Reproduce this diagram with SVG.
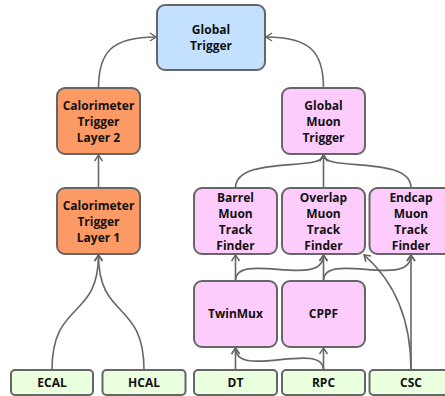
<svg xmlns="http://www.w3.org/2000/svg" width="445" height="396" viewBox="0 0 445 396">
<defs>
<marker id="ah" markerWidth="12" markerHeight="12" refX="7" refY="5" orient="auto" markerUnits="userSpaceOnUse">
<path d="M1,1 L7,5 L1,9" fill="none" stroke="#666" stroke-width="1.5"/>
</marker>
<style>
.n rect{stroke:#666;stroke-width:2}
.blue rect{fill:#c3e1ff}
.orange rect{fill:#fc9a66}
.pink rect{fill:#fdccfd}
.green rect{fill:#eaffdd}
text{font-family:"Open Sans","DejaVu Sans",sans-serif;font-weight:bold;font-size:12px;fill:#111;text-anchor:middle;dominant-baseline:central}
#edges path{fill:none;stroke:#666;stroke-width:1.6;marker-end:url(#ah)}
</style>
</defs>
<rect width="445" height="396" fill="#fff"/>
<g id="edges">
<path d="M98.5,88 C98.5,52 112,37 156,37"/>
<path d="M323.5,88 C323.5,52 310,37 266,37"/>
<path d="M98.5,188 L98.5,155"/>
<path d="M52,370 C52,300 98.5,320 98.5,255"/>
<path d="M144,370 C144,300 98.5,320 98.5,255"/>
<path d="M235.5,188 C235.5,155 323.5,172 323.5,155"/>
<path d="M323.5,188 L323.5,155"/>
<path d="M411,188 C411,155 323.5,172 323.5,155"/>
<path d="M235.5,281 L235.5,255"/>
<path d="M235.5,281 C235.5,250 323.5,290 323.5,255"/>
<path d="M323.5,281 L323.5,255"/>
<path d="M323.5,281 C323.5,250 411,290 411,255"/>
<path d="M411,370 L411,255"/>
<path d="M411,370 C411,320 395,282 364,255"/>
<path d="M235.5,370 L235.5,348"/>
<path d="M323.5,370 C323.5,340 235.5,380 235.5,348"/>
<path d="M323.5,370 L323.5,348"/>
</g>
<g id="global" class="n blue"><rect x="157" y="5" width="108" height="65" rx="8"/><text x="211" y="29.5">Global</text><text x="211" y="45.5">Trigger</text></g>
<g id="calo2" class="n orange"><rect x="57" y="88" width="83" height="66" rx="8"/><text x="98.5" y="105">Calorimeter</text><text x="98.5" y="121">Trigger</text><text x="98.5" y="137">Layer 2</text></g>
<g id="calo1" class="n orange"><rect x="57" y="188" width="83" height="66" rx="8"/><text x="98.5" y="205">Calorimeter</text><text x="98.5" y="221">Trigger</text><text x="98.5" y="237">Layer 1</text></g>
<g id="gmt" class="n pink"><rect x="282" y="88" width="83" height="66" rx="8"/><text x="323.5" y="105">Global</text><text x="323.5" y="121">Muon</text><text x="323.5" y="137">Trigger</text></g>
<g id="bmtf" class="n pink"><rect x="194" y="188" width="83" height="66" rx="8"/><text x="235.5" y="197">Barrel</text><text x="235.5" y="213">Muon</text><text x="235.5" y="229">Track</text><text x="235.5" y="245">Finder</text></g>
<g id="omtf" class="n pink"><rect x="282" y="188" width="83" height="66" rx="8"/><text x="323.5" y="197">Overlap</text><text x="323.5" y="213">Muon</text><text x="323.5" y="229">Track</text><text x="323.5" y="245">Finder</text></g>
<g id="emtf" class="n pink"><rect x="369.5" y="188" width="83" height="66" rx="8"/><text x="411" y="197">Endcap</text><text x="411" y="213">Muon</text><text x="411" y="229">Track</text><text x="411" y="245">Finder</text></g>
<g id="twinmux" class="n pink"><rect x="194" y="281" width="83" height="66" rx="8"/><text x="235.5" y="313">TwinMux</text></g>
<g id="cppf" class="n pink"><rect x="282" y="281" width="83" height="66" rx="8"/><text x="323.5" y="313">CPPF</text></g>
<g id="ecal" class="n green"><rect x="11" y="370" width="82" height="25" rx="4"/><text x="52" y="382.5">ECAL</text></g>
<g id="hcal" class="n green"><rect x="102.5" y="370" width="83" height="25" rx="4"/><text x="144" y="382.5">HCAL</text></g>
<g id="dt" class="n green"><rect x="194" y="370" width="83" height="25" rx="4"/><text x="235.5" y="382.5">DT</text></g>
<g id="rpc" class="n green"><rect x="282" y="370" width="83" height="25" rx="4"/><text x="323.5" y="382.5">RPC</text></g>
<g id="csc" class="n green"><rect x="369.5" y="370" width="83" height="25" rx="4"/><text x="411" y="382.5">CSC</text></g>
</svg>
